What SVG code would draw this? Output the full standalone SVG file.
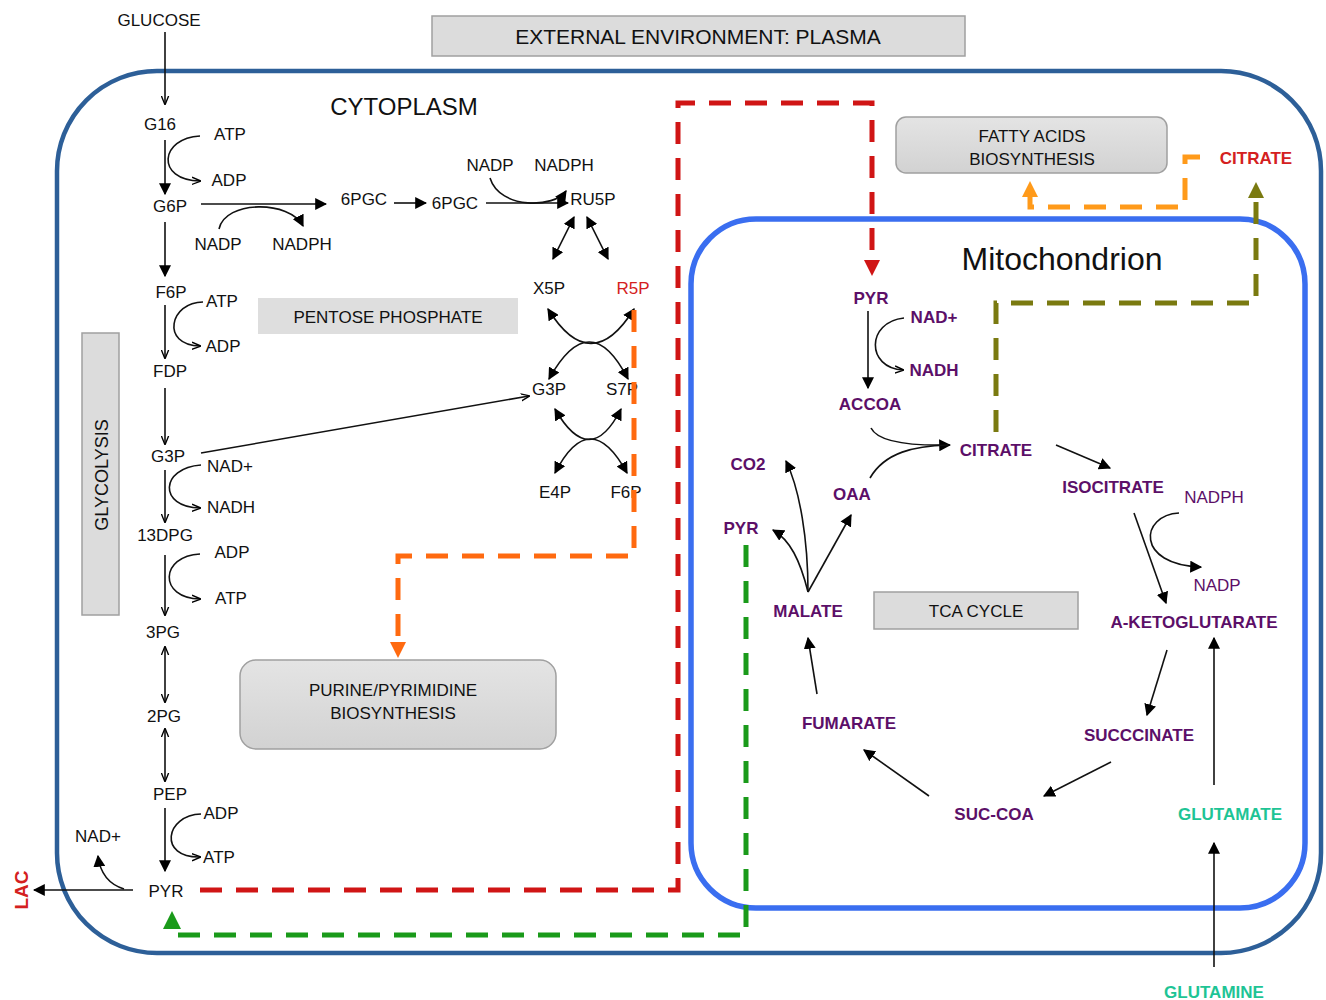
<svg xmlns="http://www.w3.org/2000/svg" width="1326" height="1000" viewBox="0 0 1326 1000">
<defs>
<marker id="ah" viewBox="0 0 10 10" refX="9" refY="5" markerWidth="7" markerHeight="7" markerUnits="userSpaceOnUse" orient="auto-start-reverse"><path d="M0,0 L10,5 L0,10 z" fill="#000"/></marker>
<marker id="ahs" viewBox="0 0 10 10" refX="9" refY="5" markerWidth="9" markerHeight="9" markerUnits="userSpaceOnUse" orient="auto-start-reverse"><path d="M0,1 L10,5 L0,9" fill="none" stroke="#000" stroke-width="1.5"/></marker>
<marker id="ahb" viewBox="0 0 10 10" refX="9" refY="5" markerWidth="12" markerHeight="12" markerUnits="userSpaceOnUse" orient="auto-start-reverse"><path d="M0,0 L10,5 L0,10 z" fill="#000"/></marker>
<marker id="red" viewBox="0 0 10 10" refX="5" refY="5" markerWidth="16" markerHeight="16" markerUnits="userSpaceOnUse" orient="auto"><path d="M0,0 L10,5 L0,10 z" fill="#d01515"/></marker>
<marker id="org" viewBox="0 0 10 10" refX="5" refY="5" markerWidth="16" markerHeight="16" markerUnits="userSpaceOnUse" orient="auto"><path d="M0,0 L10,5 L0,10 z" fill="#ff6a10"/></marker>
<marker id="org2" viewBox="0 0 10 10" refX="5" refY="5" markerWidth="16" markerHeight="16" markerUnits="userSpaceOnUse" orient="auto"><path d="M0,0 L10,5 L0,10 z" fill="#ff9a1a"/></marker>
<marker id="olv" viewBox="0 0 10 10" refX="5" refY="5" markerWidth="16" markerHeight="16" markerUnits="userSpaceOnUse" orient="auto"><path d="M0,0 L10,5 L0,10 z" fill="#7a7a10"/></marker>
<marker id="grn" viewBox="0 0 10 10" refX="5" refY="5" markerWidth="18" markerHeight="18" markerUnits="userSpaceOnUse" orient="auto"><path d="M0,0 L10,5 L0,10 z" fill="#1a9a1a"/></marker>
<linearGradient id="gb" x1="0" y1="0" x2="0" y2="1"><stop offset="0" stop-color="#e4e4e4"/><stop offset="1" stop-color="#d2d2d2"/></linearGradient>
</defs>
<style>
text{font-family:"Liberation Sans",Arial,sans-serif;font-size:17px;fill:#111;text-anchor:middle}
.m{font-weight:bold;fill:#5c0f68;font-size:17px}
.mt{fill:#5c0f68}
.tl{font-weight:bold;fill:#1ec495;font-size:17px}
.rd{fill:#d42020}
.box{fill:#dcdcdc;stroke:#a0a0a0;stroke-width:1.5}
.ln{fill:none;stroke:#111;stroke-width:1.6}
.dash{fill:none;stroke-width:5;stroke-dasharray:22 14}
</style>
<rect width="1326" height="1000" fill="#fff"/>

<g id="cell"><rect x="57" y="71" width="1264" height="882" rx="100" fill="none" stroke="#2d5f98" stroke-width="4.5"/></g>
<g id="mitochondrion"><rect x="691" y="219" width="614" height="689" rx="65" fill="none" stroke="#3a6ef0" stroke-width="5.5"/></g>

<g id="plasma"><rect x="432" y="16" width="533" height="40" class="box"/><text x="698" y="44" font-size="21" style="font-size:21px">EXTERNAL ENVIRONMENT: PLASMA</text></g>
<g id="cytoplasm-label"><text x="404" y="115" style="font-size:24px">CYTOPLASM</text></g>
<g id="mito-label"><text x="1062" y="270" style="font-size:32px">Mitochondrion</text></g>

<g id="glycolysis-box"><rect x="82" y="333" width="37" height="282" class="box"/><text transform="translate(108,475) rotate(-90)" style="font-size:18px">GLYCOLYSIS</text></g>
<g id="pentose-box"><rect x="258" y="298" width="260" height="36" fill="#dedede"/><text x="388" y="323">PENTOSE PHOSPHATE</text></g>
<g id="purine-box"><rect x="240" y="660" width="316" height="89" rx="16" fill="url(#gb)" stroke="#a0a0a0" stroke-width="1.5"/><text x="393" y="696">PURINE/PYRIMIDINE</text><text x="393" y="719">BIOSYNTHESIS</text></g>
<g id="fatty-box"><rect x="896" y="117" width="271" height="56" rx="10" fill="url(#gb)" stroke="#a0a0a0" stroke-width="1.5"/><text x="1032" y="142">FATTY ACIDS</text><text x="1032" y="165">BIOSYNTHESIS</text></g>
<g id="tca-box"><rect x="874" y="592" width="204" height="37" class="box"/><text x="976" y="617">TCA CYCLE</text></g>

<g id="glycolysis-nodes">
<text x="159" y="26">GLUCOSE</text>
<text x="160" y="130">G16</text>
<text x="230" y="140">ATP</text>
<text x="229" y="186">ADP</text>
<text x="170" y="212">G6P</text>
<text x="218" y="250">NADP</text>
<text x="302" y="250">NADPH</text>
<text x="171" y="298">F6P</text>
<text x="222" y="307">ATP</text>
<text x="223" y="352">ADP</text>
<text x="170" y="377">FDP</text>
<text x="168" y="462">G3P</text>
<text x="230" y="472">NAD+</text>
<text x="231" y="513">NADH</text>
<text x="165" y="541">13DPG</text>
<text x="232" y="558">ADP</text>
<text x="231" y="604">ATP</text>
<text x="163" y="638">3PG</text>
<text x="164" y="722">2PG</text>
<text x="170" y="800">PEP</text>
<text x="221" y="819">ADP</text>
<text x="219" y="863">ATP</text>
<text x="98" y="842">NAD+</text>
<text x="166" y="897">PYR</text>
<text class="rd" transform="translate(28,890) rotate(-90)" style="font-weight:bold;font-size:19px;fill:#d42020">LAC</text>
</g>

<g id="pentose-nodes">
<text x="364" y="205">6PGC</text>
<text x="455" y="209">6PGC</text>
<text x="490" y="171">NADP</text>
<text x="564" y="171">NADPH</text>
<text x="593" y="205">RU5P</text>
<text x="549" y="294">X5P</text>
<text x="633" y="294" class="rd">R5P</text>
<text x="549" y="395">G3P</text>
<text x="622" y="395">S7P</text>
<text x="555" y="498">E4P</text>
<text x="626" y="498">F6P</text>
</g>

<g id="mito-nodes">
<text x="871" y="304" class="m">PYR</text>
<text x="934" y="323" class="m">NAD+</text>
<text x="934" y="376" class="m">NADH</text>
<text x="870" y="410" class="m">ACCOA</text>
<text x="996" y="456" class="m">CITRATE</text>
<text x="1113" y="493" class="m">ISOCITRATE</text>
<text x="1214" y="503" class="mt">NADPH</text>
<text x="1217" y="591" class="mt">NADP</text>
<text x="1194" y="628" class="m">A-KETOGLUTARATE</text>
<text x="1139" y="741" class="m">SUCCCINATE</text>
<text x="994" y="820" class="m">SUC-COA</text>
<text x="849" y="729" class="m">FUMARATE</text>
<text x="808" y="617" class="m">MALATE</text>
<text x="748" y="470" class="m">CO2</text>
<text x="852" y="500" class="m">OAA</text>
<text x="741" y="534" class="m">PYR</text>
<text x="1230" y="820" class="tl">GLUTAMATE</text>
<text x="1214" y="998" class="tl">GLUTAMINE</text>
<text x="1256" y="164" style="font-weight:bold;fill:#d42020">CITRATE</text>
</g>

<g id="connectors">
<!-- glycolysis main chain -->
<path class="ln" d="M165,32 V104" marker-end="url(#ahs)"/>
<path class="ln" d="M165,140 V194" marker-end="url(#ahb)"/>
<path class="ln" d="M165,222 V276" marker-end="url(#ahb)"/>
<path class="ln" d="M165,305 V358" marker-end="url(#ahs)"/>
<path class="ln" d="M165,388 V444" marker-end="url(#ahs)"/>
<path class="ln" d="M165,470 V522" marker-end="url(#ahs)"/>
<path class="ln" d="M165,555 V615" marker-end="url(#ahs)"/>
<path class="ln" d="M165,647 V702" marker-start="url(#ahs)" marker-end="url(#ahs)"/>
<path class="ln" d="M165,729 V781" marker-start="url(#ahs)" marker-end="url(#ahs)"/>
<path class="ln" d="M165,808 V871" marker-end="url(#ahb)"/>
<!-- cofactor arcs -->
<path class="ln" d="M200,136 C160,138 155,180 200,181" marker-end="url(#ahs)"/>
<path class="ln" d="M203,302 C170,302 160,345 200,346" marker-end="url(#ahs)"/>
<path class="ln" d="M201,465 C160,468 158,507 200,508" marker-end="url(#ahs)"/>
<path class="ln" d="M200,554 C160,556 158,598 200,599" marker-end="url(#ahs)"/>
<path class="ln" d="M201,814 C165,815 158,858 200,857" marker-end="url(#ahs)"/>
<!-- lactate -->
<path class="ln" d="M133,890 H34" marker-end="url(#ahb)"/>
<path class="ln" d="M124,889 C108,884 100,872 98,856" marker-end="url(#ahb)"/>
<!-- oxidative pentose -->
<path class="ln" d="M201,204 H326" marker-end="url(#ahb)"/>
<path class="ln" d="M219,229 C225,200 290,200 303,226" marker-end="url(#ahb)"/>
<path class="ln" d="M394,203 H426" marker-end="url(#ahb)"/>
<path class="ln" d="M486,203 H568" marker-end="url(#ahb)"/>
<path class="ln" d="M490,178 C500,210 555,208 566,191" marker-end="url(#ahb)"/>
<path class="ln" d="M574,217 L553,259" marker-start="url(#ahb)" marker-end="url(#ahb)"/>
<path class="ln" d="M587,217 L608,259" marker-start="url(#ahb)" marker-end="url(#ahb)"/>
<!-- non-oxidative crossings -->
<path class="ln" d="M548,309 Q591,378 634,309" marker-start="url(#ahb)" marker-end="url(#ahb)"/>
<path class="ln" d="M549,379 Q590,305 628,379" marker-start="url(#ahb)" marker-end="url(#ahb)"/>
<path class="ln" d="M555,409 Q590,470 621,409" marker-start="url(#ahb)" marker-end="url(#ahb)"/>
<path class="ln" d="M555,473 Q590,405 627,473" marker-start="url(#ahb)" marker-end="url(#ahb)"/>
<path class="ln" d="M201,453 L529,396" marker-end="url(#ahs)"/>
<!-- mitochondrion -->
<path class="ln" d="M868,311 V388" marker-end="url(#ahb)"/>
<path class="ln" d="M904,318 C866,322 866,368 903,370" marker-end="url(#ahs)"/>
<path class="ln" d="M871,428 C878,442 910,446 950,445" marker-end="url(#ahb)"/>
<path class="ln" d="M870,478 C885,452 915,446 948,445"/>
<path class="ln" d="M1056,445 L1110,468" marker-end="url(#ahb)"/>
<path class="ln" d="M1134,513 L1166,603" marker-end="url(#ahb)"/>
<path class="ln" d="M1179,513 C1140,515 1135,565 1201,567" marker-end="url(#ahb)"/>
<path class="ln" d="M1167,650 L1147,715" marker-end="url(#ahb)"/>
<path class="ln" d="M1111,762 L1044,796" marker-end="url(#ahb)"/>
<path class="ln" d="M929,796 L864,750" marker-end="url(#ahb)"/>
<path class="ln" d="M817,694 L808,638" marker-end="url(#ahb)"/>
<path class="ln" d="M808,592 L851,515" marker-end="url(#ahb)"/>
<path class="ln" d="M808,592 C808,540 800,490 786,461" marker-end="url(#ahb)"/>
<path class="ln" d="M808,592 C800,560 790,540 773,530" marker-end="url(#ahb)"/>
<path class="ln" d="M1214,785 V638" marker-end="url(#ahb)"/>
<path class="ln" d="M1214,967 V843" marker-end="url(#ahb)"/>
<!-- transport dashed -->
<path class="dash" stroke="#d01515" d="M200,890 H678 V103 H872 V268" marker-end="url(#red)"/>
<path class="dash" stroke="#ff6a10" d="M634,310 V556 H398 V650" marker-end="url(#org)"/>
<path class="dash" stroke="#1a9a1a" d="M746,545 V935 H172 V920" marker-end="url(#grn)"/>
<path class="dash" stroke="#7a7a10" d="M996,432 V303 H1256 V190" marker-end="url(#olv)"/>
<path class="dash" stroke="#ff9a1a" d="M1200,157 H1185 V207 H1030 V189" marker-end="url(#org2)"/>
</g>
</svg>
